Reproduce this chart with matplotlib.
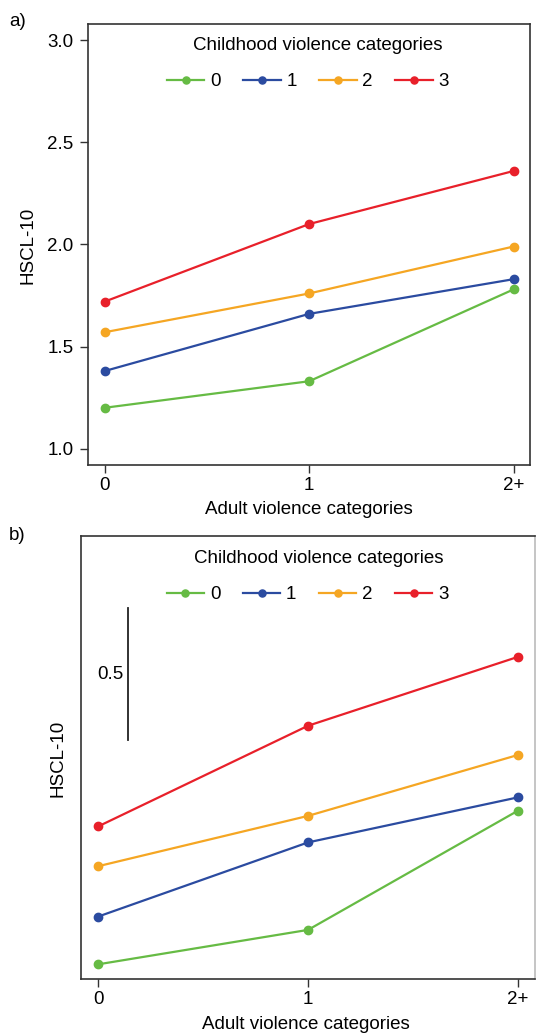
import numpy as np
import matplotlib
matplotlib.use("Agg")
import matplotlib.pyplot as plt

plt.rcParams['font.family'] = ['Liberation Sans', 'DejaVu Sans']

# data
adult_cats = ['0', '1', '2+']
child_cats = ['0', '1', '2', '3']
hscl_child0 = [1.20, 1.33, 1.78]
hscl_child1 = [1.38, 1.66, 1.83]
hscl_child2 = [1.57, 1.76, 1.99]
hscl_child3 = [1.72, 2.10, 2.36]
series = [hscl_child0, hscl_child1, hscl_child2, hscl_child3]
colors = ['#66bb44', '#2b4ba0', '#f5a623', '#e8202a']
scale_bar_len = 0.5

fig = plt.figure(figsize=(5.36, 10.33), dpi=100)
ax_a = fig.add_axes([0.1647, 0.5499, 0.8241, 0.4269])
ax_b = fig.add_axes([0.1515, 0.0526, 0.8465, 0.4286])

x = np.arange(len(adult_cats))
fs = 13.5

for ax in (ax_a, ax_b):
    for vals, col, lab in zip(series, colors, child_cats):
        ax.plot(x, vals, color=col, lw=1.6, marker='o', ms=6, label=lab)
    ax.set_xlim(-0.08, 2.08)
    ax.set_xticks(x)
    ax.set_xticklabels(adult_cats)
    ax.tick_params(axis='both', labelsize=fs, length=5.5, width=1.0,
                   color='#333333', pad=3.5)
    for sp in ax.spines.values():
        sp.set_linewidth(1.2)
        sp.set_color('#333333')
    ax.set_xlabel('Adult violence categories', fontsize=fs)
    ax.set_ylabel('HSCL-10', fontsize=fs)

# panel a
ax_a.set_ylim(0.92, 3.08)
ax_a.set_yticks([1.0, 1.5, 2.0, 2.5, 3.0])
ax_a.set_yticklabels(['1.0', '1.5', '2.0', '2.5', '3.0'])
ax_a.tick_params(axis='y', pad=5)
ax_a.xaxis.set_label_coords(0.4997, -0.0816)
ax_a.yaxis.set_label_coords(-0.118, 0.499)
ax_a.text(0.52, 0.951, 'Childhood violence categories', transform=ax_a.transAxes,
          ha='center', va='center', fontsize=fs)
ax_a.legend(handles=ax_a.lines[:4], ncol=4, loc='center',
            bbox_to_anchor=(0.497, 0.869), frameon=False, fontsize=fs,
            handlelength=2.0, handletextpad=0.3, columnspacing=1.2,
            markerscale=0.85, borderaxespad=0)

# panel b
ax_b.set_ylim(1.146, 2.816)
ax_b.set_yticks([])
ax_b.spines['right'].set_color('#bbbbbb')
ax_b.xaxis.set_label_coords(0.495, -0.0843)
ax_b.yaxis.set_label_coords(-0.033, 0.4985)
ax_b.text(0.523, 0.949, 'Childhood violence categories', transform=ax_b.transAxes,
          ha='center', va='center', fontsize=fs)
ax_b.legend(handles=ax_b.lines[:4], ncol=4, loc='center',
            bbox_to_anchor=(0.499, 0.867), frameon=False, fontsize=fs,
            handlelength=2.0, handletextpad=0.3, columnspacing=1.2,
            markerscale=0.85, borderaxespad=0)
bar_x = 0.142
bar_y0 = 2.045
ax_b.plot([bar_x, bar_x], [bar_y0, bar_y0 + scale_bar_len], color='#222222', lw=1.3)
ax_b.text(bar_x - 0.02, bar_y0 + scale_bar_len / 2, '0.5', ha='right', va='center',
          fontsize=fs)

fig.text(9 / 536, 1 - 22 / 1033, 'a)', ha='left', va='center', fontsize=fs)
fig.text(9 / 536, 1 - 535 / 1033, 'b)', ha='left', va='center', fontsize=fs)

fig.savefig('out.png', dpi=100)
